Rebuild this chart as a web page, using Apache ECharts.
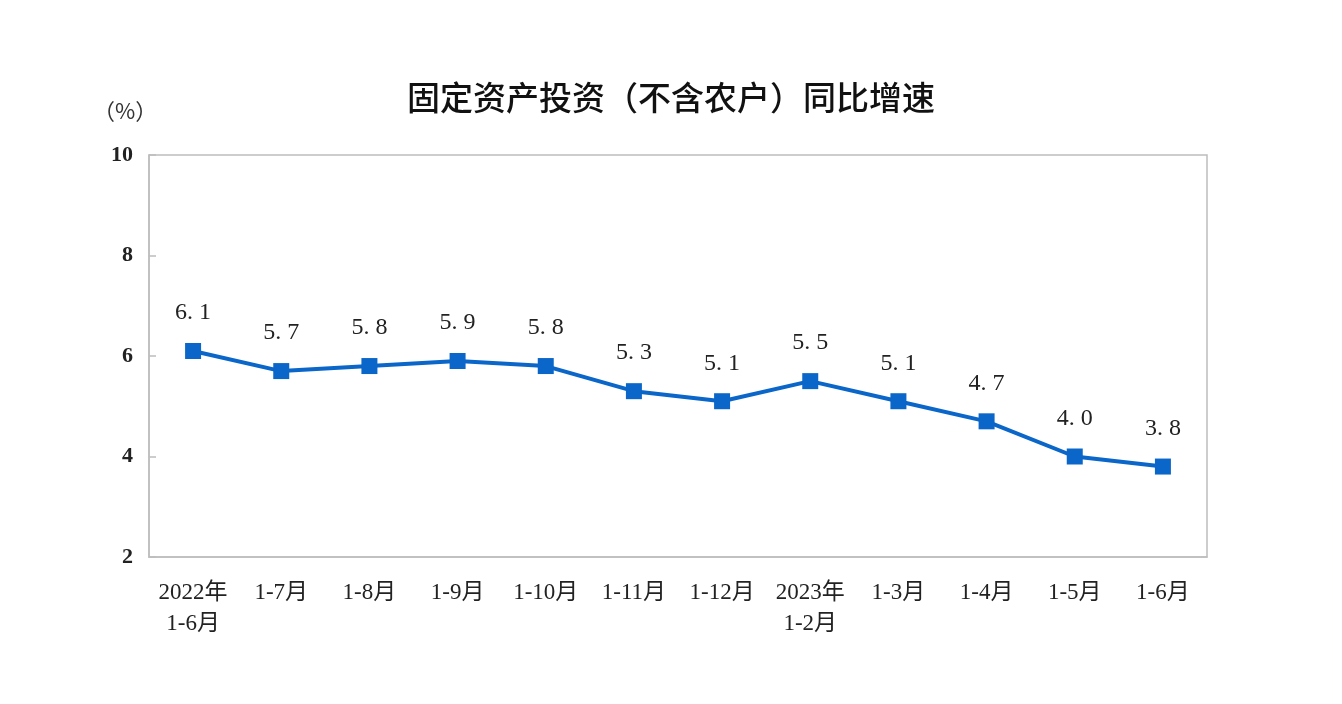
<!DOCTYPE html>
<html><head><meta charset="utf-8">
<script src="https://cdn.jsdelivr.net/npm/echarts@6/dist/echarts.min.js"></script>
<style>html,body{margin:0;padding:0;background:#fff}#c{width:1342px;height:704px}</style>
</head><body><div id="c"></div>
<script>
const categories = ['2022年\n1-6月','1-7月','1-8月','1-9月','1-10月','1-11月','1-12月','2023年\n1-2月','1-3月','1-4月','1-5月','1-6月'];
const growth = [6.1,5.7,5.8,5.9,5.8,5.3,5.1,5.5,5.1,4.7,4.0,3.8];
const yTicks = [2,4,6,8,10];
const serif = '"Liberation Serif","DejaVu Serif","Noto Sans CJK SC",serif';
const chart = echarts.init(document.getElementById('c'));
chart.setOption({
  backgroundColor:'#fff',
  animation:false,
  title:{text:'固定资产投资（不含农户）同比增速',left:'center',top:76,
    textStyle:{fontFamily:'"Noto Sans CJK SC",sans-serif',fontSize:33,fontWeight:500,color:'#111'}},
  graphic:[{type:'text',left:93,top:100,style:{text:'（%）',font:'22px "Noto Sans CJK SC",sans-serif',fill:'#333'}}],
  grid:{left:149,right:135,top:155,bottom:147,show:true,borderColor:'#bdbdbd',borderWidth:1.5},
  xAxis:{type:'category',data:categories,boundaryGap:true,
    axisLine:{lineStyle:{color:'#bdbdbd',width:1.5}},
    axisTick:{inside:true,length:9,lineStyle:{color:'#bdbdbd',width:1.5}},
    axisLabel:{interval:0,margin:20,fontFamily:serif,fontSize:23,color:'#222',lineHeight:31}},
  yAxis:{type:'value',min:yTicks[0],max:yTicks[yTicks.length-1],interval:2,
    splitLine:{show:false},
    axisLine:{show:true,lineStyle:{color:'#bdbdbd',width:1.5}},
    axisTick:{show:true,inside:true,length:7,lineStyle:{color:'#bdbdbd',width:1.5}},
    axisLabel:{margin:16,fontFamily:serif,fontSize:22,fontWeight:'bold',color:'#222'}},
  series:[{type:'line',data:growth,symbol:'rect',symbolSize:16,
    lineStyle:{color:'#0a66c8',width:4},itemStyle:{color:'#0a66c8'},
    label:{show:true,position:'top',distance:18,fontFamily:serif,fontSize:24,color:'#222',
      formatter:p=>p.value.toFixed(1).replace('.','. ')}}]
});
</script></body></html>
